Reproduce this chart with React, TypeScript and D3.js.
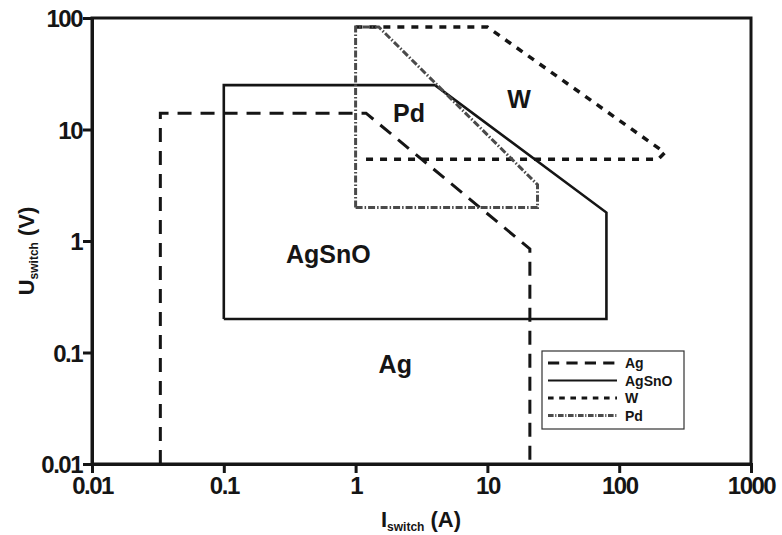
import React, { useEffect, useRef } from "react";
import * as d3 from "d3";

// Regions (current in A, voltage in V)
const AG_I = [0.033, 0.033, 1.2, 21, 21];
const AG_U = [0.01, 14, 14, 0.85, 0.01];

const AGSNO_I = [0.1, 0.1, 4, 80, 80, 0.1];
const AGSNO_U = [0.2, 25, 25, 1.8, 0.2, 0.2];

const W_I = [1.2, 197, 222, 10, 1.0];
const W_U = [5.4, 5.4, 6.2, 83, 83];

const PD_I = [1.0, 1.0, 1.5, 24, 24, 1.0];
const PD_U = [2, 83, 83, 3.2, 2, 2];

const X_TICKS = [0.01, 0.1, 1, 10, 100, 1000];
const Y_TICKS = [0.01, 0.1, 1, 10, 100];
const TICK_LABELS: Record<number, string> = {
  0.01: "0.01", 0.1: "0.1", 1: "1", 10: "10", 100: "100", 1000: "1000",
};

const FONT = "'Liberation Sans', Arial, sans-serif";
const INK = "#151515";

type Series = { name: string; I: number[]; U: number[]; dash: string; width: number; color: string };

const SERIES: Series[] = [
  { name: "Ag", I: AG_I, U: AG_U, dash: "14,9", width: 3, color: INK },
  { name: "AgSnO", I: AGSNO_I, U: AGSNO_U, dash: "", width: 2.6, color: INK },
  { name: "W", I: W_I, U: W_U, dash: "7,7", width: 3.5, color: INK },
  { name: "Pd", I: PD_I, U: PD_U, dash: "7,2,1.5,2", width: 3, color: "#4a4a4a" },
];

const LABELS = [
  { text: "Pd", I: 2.54, U: 11.7 },
  { text: "W", I: 17.4, U: 15.6 },
  { text: "AgSnO", I: 0.62, U: 0.635 },
  { text: "Ag", I: 2.0, U: 0.0655 },
];

const App: React.FC = () => {
  const ref = useRef<SVGSVGElement>(null);

  useEffect(() => {
    if (!ref.current) return;
    const svg = d3.select(ref.current);
    svg.selectAll("*").remove();

    const x = d3.scaleLog().domain([0.01, 1000]).range([92, 751]);
    const y = d3.scaleLog().domain([0.01, 100]).range([464, 18]);

    const line = d3
      .line<[number, number]>()
      .x((d) => x(d[0]))
      .y((d) => y(d[1]));

    // region outlines
    SERIES.forEach((s) => {
      const pts = s.I.map((v, i) => [v, s.U[i]] as [number, number]);
      svg
        .append("path")
        .attr("d", line(pts))
        .attr("fill", "none")
        .attr("stroke", s.color)
        .attr("stroke-width", s.width)
        .attr("stroke-dasharray", s.dash || null)
        .attr("stroke-linejoin", "miter");
    });

    // frame
    svg
      .append("rect")
      .attr("x", x(0.01))
      .attr("y", y(100))
      .attr("width", x(1000) - x(0.01))
      .attr("height", y(0.01) - y(100))
      .attr("fill", "none")
      .attr("stroke", INK)
      .attr("stroke-width", 3);

    const xAxis = svg
      .append("g")
      .attr("transform", `translate(0,${y(0.01)})`)
      .call(
        d3.axisBottom(x).tickValues(X_TICKS).tickSize(9).tickPadding(4)
          .tickFormat((d) => TICK_LABELS[+d])
      );
    const yAxis = svg
      .append("g")
      .attr("transform", `translate(${x(0.01)},0)`)
      .call(
        d3.axisLeft(y).tickValues(Y_TICKS).tickSize(9).tickPadding(1)
          .tickFormat((d) => TICK_LABELS[+d])
      );

    [xAxis, yAxis].forEach((g) => {
      g.select(".domain").attr("stroke", INK).attr("stroke-width", 3);
      g.selectAll(".tick line").attr("stroke", INK).attr("stroke-width", 3);
      g.selectAll(".tick text")
        .attr("fill", INK)
        .style("font-family", FONT)
        .style("font-size", "24px")
        .style("font-weight", "bold")
        .style("letter-spacing", "-1.5px");
    });
    yAxis.selectAll(".tick text").attr("dy", "0.36em");

    // region labels
    svg
      .selectAll("text.region")
      .data(LABELS)
      .enter()
      .append("text")
      .attr("class", "region")
      .attr("x", (d) => x(d.I))
      .attr("y", (d) => y(d.U))
      .attr("text-anchor", "middle")
      .style("font-family", FONT)
      .style("font-size", "25px")
      .style("font-weight", "bold")
      .attr("fill", INK)
      .text((d) => d.text);

    // axis titles
    const xt = svg
      .append("text")
      .attr("x", 421)
      .attr("y", 527)
      .attr("text-anchor", "middle")
      .style("font-family", FONT)
      .style("font-weight", "bold")
      .style("font-size", "22px")
      .attr("fill", INK);
    xt.append("tspan").text("I");
    xt.append("tspan").attr("dy", 4).style("font-size", "12px").text("switch");
    xt.append("tspan").attr("dy", -4).text(" (A)");

    const yt = svg
      .append("text")
      .attr("transform", "translate(34,251) rotate(-90)")
      .attr("text-anchor", "middle")
      .style("font-family", FONT)
      .style("font-weight", "bold")
      .style("font-size", "22px")
      .attr("fill", INK);
    yt.append("tspan").text("U");
    yt.append("tspan").attr("dy", 4).style("font-size", "12px").text("switch");
    yt.append("tspan").attr("dy", -4).text(" (V)");

    // legend
    const lg = svg.append("g").attr("transform", "translate(542,351)");
    lg.append("rect")
      .attr("width", 142)
      .attr("height", 78)
      .attr("fill", "white")
      .attr("stroke", "#333")
      .attr("stroke-width", 1.2);
    SERIES.forEach((s, i) => {
      const yy = 12 + i * 17.5;
      lg.append("line")
        .attr("x1", 6)
        .attr("x2", 75)
        .attr("y1", yy)
        .attr("y2", yy)
        .attr("stroke", s.color)
        .attr("stroke-width", s.name === "AgSnO" ? 1.8 : 3)
        .attr("stroke-dasharray", s.dash ? s.dash.split(",").map((v) => +v * 0.8).join(",") : null);
      lg.append("text")
        .attr("x", 83)
        .attr("y", yy + 5)
        .style("font-family", FONT)
        .style("font-weight", "bold")
        .style("font-size", "14px")
        .attr("fill", INK)
        .text(s.name);
    });
  }, []);

  return (
    <svg
      ref={ref}
      width={782}
      height={535}
      style={{ position: "absolute", left: 0, top: 0, background: "white" }}
    />
  );
};

export default App;
